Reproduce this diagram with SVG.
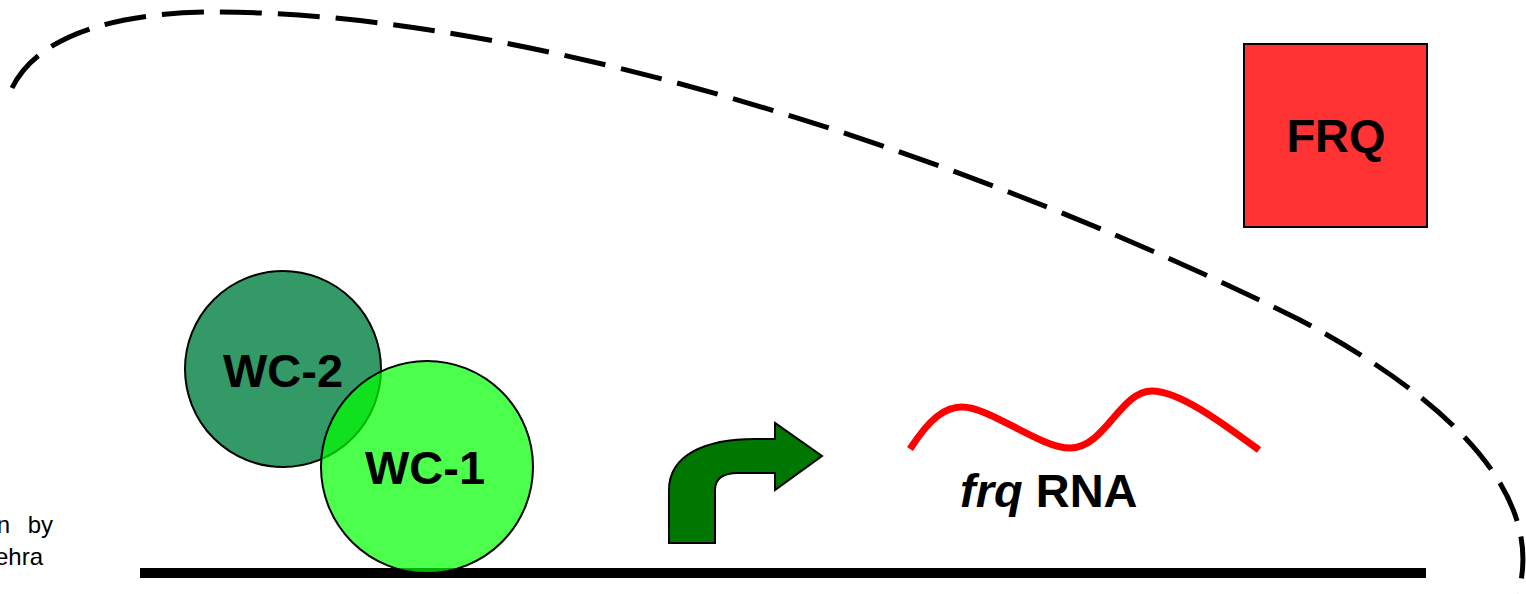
<svg xmlns="http://www.w3.org/2000/svg" width="1526" height="594" viewBox="0 0 1526 594">
<style>
.lbl{font-family:"Liberation Sans",Arial,sans-serif;font-weight:bold;font-size:47px;fill:#000}
.note{font-family:"Liberation Sans",Arial,sans-serif;font-size:24px;fill:#000}
</style>
<rect width="1526" height="594" fill="#fff"/>
<g id="connectors">
<path id="loop" d="M12,88 C40,30 130,12 215,12 C550,12 1000,170 1300,320 C1460,405 1545,500 1518,594" fill="none" stroke="#000" stroke-width="5" stroke-dasharray="42 16"/>
</g>
<g id="dna"><rect x="140" y="568" width="1286" height="10" fill="#000"/></g>
<g id="note">
<text class="note" x="10" y="533" text-anchor="end">n</text>
<text class="note" x="53" y="533" text-anchor="end">by</text>
<text class="note" x="43" y="565" text-anchor="end">ehra</text>
</g>
<g id="wc2">
<circle cx="283" cy="369" r="98" fill="#339966" stroke="#000" stroke-width="2"/>
<text class="lbl" x="283" y="387" text-anchor="middle">WC-2</text>
</g>
<g id="wc1">
<circle cx="427" cy="467" r="106" fill="#00ff00" fill-opacity="0.7" stroke="#000" stroke-width="2"/>
<text class="lbl" x="425" y="484" text-anchor="middle">WC-1</text>
</g>
<g id="promoter">
<path d="M669,543 L669,490 C669,455 705,439 755,439 L775,439 L775,423 L822,456 L775,490 L775,473 L738,473 C724,473 715,478 715,490 L715,543 Z" fill="#007700" stroke="#000" stroke-width="2" stroke-linejoin="miter"/>
</g>
<g id="frqRNA">
<path d="M910,449 C930,418 945,407 962,407 C990,407 1040,448 1070,448 C1105,448 1120,391 1152,391 C1180,391 1225,425 1259,450" fill="none" stroke="#ff0000" stroke-width="7"/>
<text class="lbl" x="960" y="507"><tspan font-style="italic">frq</tspan> RNA</text>
</g>
<g id="FRQ">
<rect x="1244" y="44" width="183" height="183" fill="#ff3333" stroke="#000" stroke-width="2"/>
<text class="lbl" x="1336" y="152" text-anchor="middle">FRQ</text>
</g>
</svg>
